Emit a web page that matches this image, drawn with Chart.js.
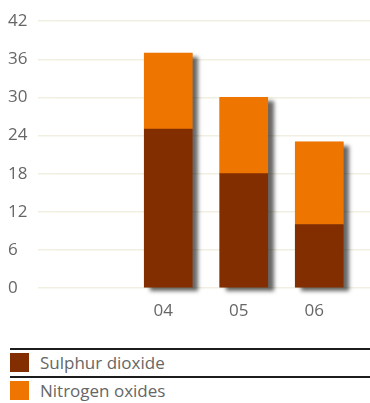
<!DOCTYPE html>
<html>
<head>
<meta charset="utf-8">
<script src="https://cdn.jsdelivr.net/npm/chart.js@4.4.1/dist/chart.umd.min.js"></script>
<style>
  html, body { margin: 0; padding: 0; background: #fff; }
  body { width: 370px; height: 403px; overflow: hidden; position: relative; font-family: "Open Sans", sans-serif; }
  #wrap { position: absolute; left: 0; top: 0; width: 370px; height: 335px; }
  #legend { position: absolute; left: 10px; top: 348px; width: 360px; }
  .row { height: 26px; border-top: 2px solid #1c1c1c; position: relative; }
  .sw { position: absolute; left: 0; top: 3px; width: 19px; height: 19px; }
  .lbl { position: absolute; left: 30px; top: 0px; font-size: 17px; line-height: 25px; color: #666; }
</style>
</head>
<body>
<div id="wrap"><canvas id="c"></canvas></div>
<div id="legend"></div>
<script>
// Emissions by year, stacked
const years = ['', '04', '05', '06'];
const sulphurDioxide = [null, 25, 18, 10];
const nitrogenOxides = [null, 12, 12, 13];
const seriesNames = ['Sulphur dioxide', 'Nitrogen oxides'];
const seriesColors = ['#832e00', '#ee7600'];
const yTicks = [0, 6, 12, 18, 24, 30, 36, 42];

const gridColor = '#f0efe1';
const textColor = '#666';
const tickFont = { family: 'Open Sans', size: 17 };

// drop shadow behind each stacked column
const stackShadow = {
  id: 'stackShadow',
  beforeDatasetsDraw(chart) {
    const ctx = chart.ctx;
    const first = chart.getDatasetMeta(0).data;
    const last = chart.getDatasetMeta(chart.data.datasets.length - 1).data;
    ctx.save();
    ctx.shadowColor = 'rgba(0,0,0,0.6)';
    ctx.shadowBlur = 4;
    ctx.shadowOffsetX = 6;
    ctx.shadowOffsetY = 4;
    ctx.fillStyle = '#777';
    first.forEach((bar, i) => {
      if (sulphurDioxide[i] == null) return;
      const top = last[i];
      const w = bar.width;
      ctx.fillRect(bar.x - w / 2, top.y, w, bar.base - top.y);
    });
    ctx.restore();
  }
};

new Chart(document.getElementById('c'), {
  type: 'bar',
  data: {
    labels: years,
    datasets: [
      { label: seriesNames[0], data: sulphurDioxide, backgroundColor: seriesColors[0], barThickness: 48 },
      { label: seriesNames[1], data: nitrogenOxides, backgroundColor: seriesColors[1], barThickness: 48 }
    ]
  },
  options: {
    responsive: true,
    maintainAspectRatio: false,
    animation: false,
    layout: { padding: { left: 8, right: 0, top: 17, bottom: 0 } },
    plugins: { legend: { display: false }, tooltip: { enabled: false } },
    scales: {
      x: {
        stacked: true,
        grid: { display: false },
        border: { display: false },
        afterFit: s => { s.height = 47; },
        ticks: { color: textColor, font: tickFont, padding: 5, labelOffset: -5 }
      },
      y: {
        stacked: true,
        min: 0, max: 42,
        afterBuildTicks: s => { s.ticks = yTicks.map(v => ({ value: v })); },
        afterFit: s => { s.width = 47; },
        grid: { color: gridColor, lineWidth: 1.5, tickLength: 17, tickColor: gridColor },
        border: { display: false },
        ticks: { color: textColor, font: tickFont, padding: 11, crossAlign: 'far' }
      },
      yRight: {
        position: 'right',
        min: 0, max: 42,
        afterBuildTicks: s => { s.ticks = yTicks.map(v => ({ value: v })); },
        afterFit: s => { s.width = 13; },
        grid: { drawOnChartArea: false, color: gridColor, lineWidth: 1.5, tickLength: 13, tickColor: gridColor },
        border: { display: false },
        ticks: { display: false }
      }
    }
  },
  plugins: [stackShadow]
});

// legend rows
const legend = document.getElementById('legend');
seriesNames.forEach((name, i) => {
  const row = document.createElement('div');
  row.className = 'row';
  row.innerHTML = '<div class="sw" style="background:' + seriesColors[i] + '"></div><div class="lbl">' + name + '</div>';
  legend.appendChild(row);
});
</script>
</body>
</html>
